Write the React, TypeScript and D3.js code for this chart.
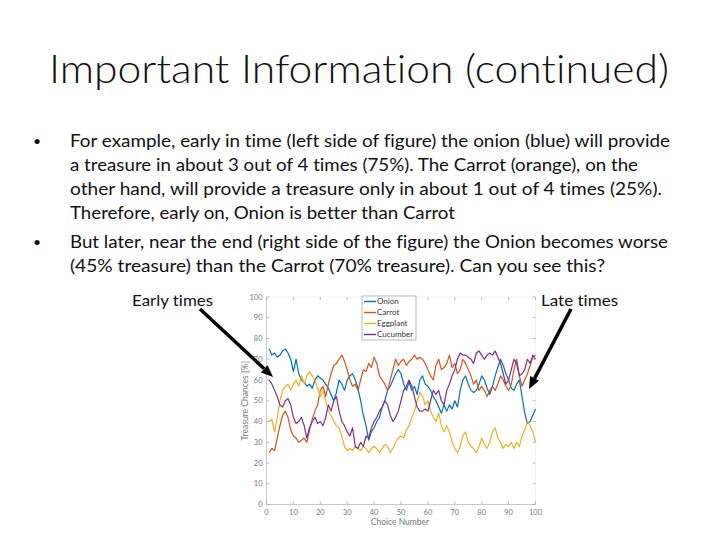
import * as d3 from 'd3';

// Choice number 1..100
const choices = d3.range(1, 101);

const onion = [
  75, 72, 73, 71, 72, 74, 75, 73, 70, 64,
  70, 63, 60, 59, 57, 58, 56, 60, 62, 61,
  60, 58, 56, 53, 50, 54, 60, 58, 55, 60,
  62, 63, 60, 56, 50, 43, 38, 31, 35, 37,
  40, 42, 47, 50, 55, 57, 60, 63, 65, 63,
  58, 55, 59, 55, 57, 53, 60, 62, 58, 57,
  55, 52, 50, 47, 44, 48, 45, 48, 46, 50,
  47, 55, 60, 62, 58, 55, 54, 55, 58, 62,
  60, 56, 53, 57, 62, 66, 70, 67, 63, 60,
  56, 55, 58, 60, 52, 44, 39, 40, 43, 46,
];

const carrot = [
  25, 27, 26, 32, 38, 43, 45, 42, 36, 33,
  32, 30, 31, 32, 30, 36, 41, 45, 48, 55,
  57, 52, 58, 63, 67, 68, 70, 72, 69, 65,
  60, 57, 58, 55, 60, 65, 64, 68, 66, 71,
  68, 62, 60, 58, 55, 60, 65, 70, 67, 69,
  70, 67, 69, 70, 72, 70, 71, 70, 68, 65,
  62, 60, 67, 70, 65, 66, 68, 72, 66, 68,
  63, 65, 70, 68, 65, 62, 58, 60, 55, 57,
  55, 52, 55, 57, 55, 58, 62, 60, 57, 55,
  58, 65, 70, 62, 57, 60, 63, 67, 71, 72,
];

const eggplant = [
  40, 41, 35, 42, 50, 55, 57, 58, 55, 58,
  60, 57, 62, 58, 62, 64, 62, 60, 56, 52,
  55, 50, 45, 43, 40, 38, 37, 33, 28, 26,
  27, 26, 28, 27, 26, 28, 27, 25, 27, 28,
  27, 25, 27, 29, 28, 25, 27, 30, 32, 33,
  32, 36, 38, 42, 45, 50, 54, 52, 48, 50,
  45, 42, 40, 44, 38, 35, 38, 35, 30, 27,
  25, 28, 33, 35, 30, 28, 27, 25, 28, 32,
  29, 27, 30, 35, 37, 32, 30, 27, 29, 28,
  30, 27, 30, 28, 33, 36, 40, 38, 35, 30,
];

const cucumber = [
  60, 58, 55, 52, 48, 47, 50, 51, 48, 42,
  39, 40, 42, 38, 32, 37, 40, 42, 39, 40,
  38, 42, 48, 45, 50, 52, 45, 40, 38, 35,
  33, 37, 28, 27, 30, 28, 33, 32, 37, 40,
  42, 45, 47, 50, 48, 43, 40, 42, 45, 50,
  55, 57, 60, 57, 52, 47, 45, 45, 46, 45,
  50, 55, 53, 55, 50, 48, 55, 58, 62, 65,
  70, 73, 72, 72, 71, 70, 68, 73, 74, 72,
  70, 72, 73, 72, 74, 71, 68, 63, 58, 60,
  65, 70, 68, 62, 63, 65, 70, 68, 72, 70,
];

const seriesNames = ['Onion', 'Carrot', 'Eggplant', 'Cucumber'];
const seriesValues = [onion, carrot, eggplant, cucumber];
const seriesColors = ['#0072BD', '#D95319', '#EDB120', '#7E2F8E'];

const xTicks = d3.range(0, 101, 10);
const yTicks = d3.range(0, 101, 10);

const bulletLines = [
  { bullet: true, text: 'For example, early in time (left side of figure) the onion (blue) will provide', w: 600 },
  { bullet: false, text: 'a treasure in about 3 out of 4 times (75%). The Carrot (orange), on the', w: 568 },
  { bullet: false, text: 'other hand, will provide a treasure only in about 1 out of 4 times (25%).', w: 592 },
  { bullet: false, text: 'Therefore, early on, Onion is better than Carrot', w: 385 },
  { bullet: true, text: 'But later, near the end (right side of the figure) the Onion becomes worse', w: 598 },
  { bullet: false, text: '(45% treasure) than the Carrot (70% treasure). Can you see this?', w: 535 },
];
const lineY = [147, 171, 195, 219, 248, 272];

const FONT = 'Lato, "Open Sans", sans-serif';

const Arrow = ({ x1, y1, x2, y2 }: { x1: number; y1: number; x2: number; y2: number }) => {
  const ang = Math.atan2(y2 - y1, x2 - x1);
  const len = 12;
  const half = 5;
  const bx = x2 - len * Math.cos(ang);
  const by = y2 - len * Math.sin(ang);
  const px = -Math.sin(ang) * half;
  const py = Math.cos(ang) * half;
  return (
    <g>
      <line x1={x1} y1={y1} x2={bx} y2={by} stroke="#000" strokeWidth={3.5} />
      <polygon points={`${x2},${y2} ${bx + px},${by + py} ${bx - px},${by - py}`} fill="#000" />
    </g>
  );
};

export default function App() {
  const left = 266.5;
  const right = 535.5;
  const top = 297;
  const bottom = 504.5;

  const x = d3.scaleLinear().domain([0, 100]).range([left, right]);
  const y = d3.scaleLinear().domain([0, 100]).range([bottom, top]);

  const line = d3
    .line<number>()
    .x((_, i) => x(choices[i]))
    .y((d) => y(d));

  const axisColor = '#c8c8c8';
  const tickLabelColor = '#777';

  return (
    <svg
      width={720}
      height={540}
      style={{ position: 'absolute', left: 0, top: 0, background: '#fff', fontVariantLigatures: 'none' }}
      fontFamily={FONT}
    >
      <rect width={720} height={540} fill="#fff" />

      {/* title */}
      <text x={359} y={83} textAnchor="middle" fontSize={40} fontWeight={300} fill="#111" textLength={620} lengthAdjust="spacingAndGlyphs">
        Important Information (continued)
      </text>

      {/* bullets */}
      {bulletLines.map((l, i) => (
        <g key={i}>
          {l.bullet && (
            <text x={33} y={lineY[i] - 1} fontSize={14} fill="#111">
              •
            </text>
          )}
          <text x={70} y={lineY[i]} fontSize={18} fill="#111" textLength={l.w} lengthAdjust="spacingAndGlyphs">
            {l.text}
          </text>
        </g>
      ))}

      {/* plot box */}
      <rect x={left} y={top} width={right - left} height={bottom - top} fill="none" stroke="#eee" strokeWidth={0.8} />
      <line x1={left} y1={top} x2={left} y2={bottom} stroke={axisColor} strokeWidth={1} />
      <line x1={left} y1={bottom} x2={right} y2={bottom} stroke={axisColor} strokeWidth={1} />

      {yTicks.map((t) => (
        <g key={'y' + t}>
          <line x1={left} x2={left + 3} y1={y(t)} y2={y(t)} stroke="#aaa" strokeWidth={0.8} />
          <line x1={right} x2={right - 3} y1={y(t)} y2={y(t)} stroke="#aaa" strokeWidth={0.8} />
          <text x={left - 4} y={y(t)} dy="0.35em" textAnchor="end" fontSize={7.5} fill={tickLabelColor}>
            {t}
          </text>
        </g>
      ))}
      {xTicks.map((t) => (
        <g key={'x' + t}>
          <line x1={x(t)} x2={x(t)} y1={bottom} y2={bottom - 3} stroke="#aaa" strokeWidth={0.8} />
          <line x1={x(t)} x2={x(t)} y1={top} y2={top + 3} stroke="#aaa" strokeWidth={0.8} />
          <text x={x(t)} y={bottom + 10} textAnchor="middle" fontSize={7.5} fill={tickLabelColor}>
            {t}
          </text>
        </g>
      ))}

      <text x={400} y={525} textAnchor="middle" fontSize={8.5} fill="#777">
        Choice Number
      </text>
      <text transform={`translate(248,${(top + bottom) / 2}) rotate(-90)`} textAnchor="middle" fontSize={8.5} fill="#777">
        Treasure Chances [%]
      </text>

      {/* series */}
      {seriesValues.map((vals, i) => (
        <path key={seriesNames[i]} d={line(vals) || ''} fill="none" stroke={seriesColors[i]} strokeWidth={1.2} strokeLinejoin="round" />
      ))}

      {/* legend */}
      <rect x={362} y={296} width={54} height={44} fill="#fff" stroke="#999" strokeWidth={0.7} />
      {seriesNames.map((n, i) => {
        const ly = 301.5 + i * 11;
        return (
          <g key={n}>
            <line x1={364} x2={376} y1={ly} y2={ly} stroke={seriesColors[i]} strokeWidth={1.4} />
            <text x={377} y={ly} dy="0.35em" fontSize={8} fill="#333">
              {n}
            </text>
          </g>
        );
      })}

      {/* annotations */}
      <text x={132} y={306} fontSize={15} fill="#111" textLength={81} lengthAdjust="spacingAndGlyphs">
        Early times
      </text>
      <text x={541} y={306} fontSize={15} fill="#111" textLength={77} lengthAdjust="spacingAndGlyphs">
        Late times
      </text>
      <Arrow x1={200} y1={309} x2={273} y2={377} />
      <Arrow x1={571} y1={309} x2={529} y2={389} />
    </svg>
  );
}
